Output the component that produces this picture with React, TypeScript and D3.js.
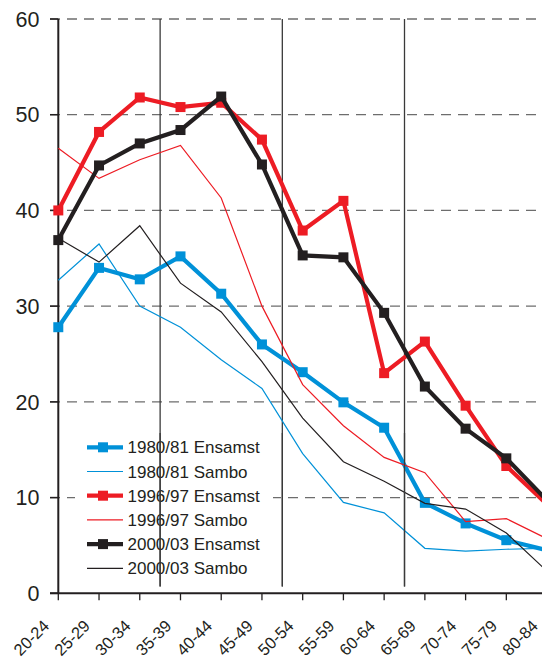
import React from "react";
import * as d3 from "d3";

const categories = ["20-24","25-29","30-34","35-39","40-44","45-49","50-54","55-59","60-64","65-69","70-74","75-79","80-84"];
const yTicks = [0, 10, 20, 30, 40, 50, 60];

const ensamst1980 = [27.8, 34.0, 32.8, 35.2, 31.3, 26.0, 23.1, 19.95, 17.3, 9.45, 7.3, 5.55, 4.5];
const sambo1980 = [32.7, 36.5, 30.0, 27.8, 24.4, 21.4, 14.6, 9.5, 8.4, 4.7, 4.4, 4.6, 4.7];
const ensamst1996 = [40.0, 48.2, 51.8, 50.8, 51.25, 47.4, 37.9, 41.0, 23.0, 26.3, 19.6, 13.3, 9.3];
const sambo1996 = [46.5, 43.35, 45.3, 46.8, 41.3, 30.0, 21.8, 17.5, 14.2, 12.6, 7.5, 7.8, 5.7];
const ensamst2000 = [36.9, 44.7, 47.0, 48.4, 51.9, 44.8, 35.3, 35.1, 29.3, 21.6, 17.2, 14.1, 9.7];
const sambo2000 = [37.1, 34.6, 38.4, 32.4, 29.4, 24.2, 18.3, 13.75, 11.7, 9.4, 8.8, 6.3, 2.3];

const BLUE = "#0091d8";
const RED = "#ed1c24";
const BLACK = "#231f20";

const series = [
  { name: "1980/81 Ensamst", values: ensamst1980, color: BLUE, thick: true },
  { name: "1980/81 Sambo", values: sambo1980, color: BLUE, thick: false },
  { name: "1996/97 Ensamst", values: ensamst1996, color: RED, thick: true },
  { name: "1996/97 Sambo", values: sambo1996, color: RED, thick: false },
  { name: "2000/03 Ensamst", values: ensamst2000, color: BLACK, thick: true },
  { name: "2000/03 Sambo", values: sambo2000, color: BLACK, thick: false },
];

const dividers = [2.5, 5.5, 8.5];

export default function App() {
  const W = 542, H = 659;
  const x = d3.scaleLinear().domain([0, 12]).range([58.3, 58.3 + 12 * 40.73]);
  const y = d3.scaleLinear().domain([0, 60]).range([593.3, 19]);
  const line = d3.line<number>().x((_, i) => x(i)).y((d) => y(d));
  const font = "'Liberation Sans', Arial, sans-serif";
  const ms = 10;

  return (
    <svg width={W} height={H} style={{ position: "absolute", left: 0, top: 0, background: "#fff" }} fontFamily={font}>
      <rect x={0} y={0} width={W} height={H} fill="#fff" />
      {yTicks.filter((t) => t > 0).map((t) => (
        <line key={"g" + t} x1={50} x2={W} y1={y(t)} y2={y(t)} stroke="#6d6d6d" strokeWidth={1.3} strokeDasharray="10,7" />
      ))}
      <rect x={75} y={433} width={198} height={148} fill="#fff" />
      {dividers.map((d) => (
        <line key={"d" + d} x1={x(d)} x2={x(d)} y1={y(60)} y2={586.5} stroke="#3a3a3a" strokeWidth={1.3} />
      ))}
      <line x1={x(0)} x2={x(0)} y1={y(60)} y2={y(0)} stroke={BLACK} strokeWidth={2} />
      {yTicks.map((t) => (
        <g key={"yt" + t}>
          <line x1={50} x2={x(0)} y1={y(t)} y2={y(t)} stroke={BLACK} strokeWidth={1.5} />
          <text x={39.5} y={y(t)} dy="0.36em" textAnchor="end" fontSize={21.5} fill={BLACK}>{t}</text>
        </g>
      ))}
      <line x1={50} x2={W} y1={y(0)} y2={y(0)} stroke={BLACK} strokeWidth={2} />
      {categories.map((c, i) => (
        <g key={"xt" + c}>
          <line x1={x(i)} x2={x(i)} y1={y(0)} y2={y(0) + 7} stroke={BLACK} strokeWidth={1.3} />
          <text transform={`translate(${x(i) - 8},${627}) rotate(-45)`} textAnchor="end" fontSize={16.5} fill={BLACK}>{c}</text>
        </g>
      ))}
      {series.map((s) => (
        <g key={s.name}>
          <path d={line(s.values) || ""} fill="none" stroke={s.color} strokeWidth={s.thick ? 4.2 : 1.2} strokeLinejoin="miter" />
          {s.thick && s.values.map((v, i) => (
            <rect key={i} x={x(i) - ms / 2} y={y(v) - ms / 2} width={ms} height={ms} fill={s.color} />
          ))}
        </g>
      ))}
      {series.map((s, i) => {
        const ly = 447.3 + i * 24.2;
        return (
          <g key={"lg" + s.name}>
            <line x1={87} x2={123} y1={ly} y2={ly} stroke={s.color} strokeWidth={s.thick ? 4.2 : 1.2} />
            {s.thick && <rect x={103 - ms / 2} y={ly - ms / 2} width={ms} height={ms} fill={s.color} />}
            <text x={127.5} y={ly} dy="0.36em" fontSize={17} fill={BLACK}>{s.name}</text>
          </g>
        );
      })}
      {dividers.map((d) => (
        <line key={"d2" + d} x1={x(d)} x2={x(d)} y1={433} y2={586.5} stroke="#3a3a3a" strokeWidth={1.3} />
      ))}
    </svg>
  );
}
